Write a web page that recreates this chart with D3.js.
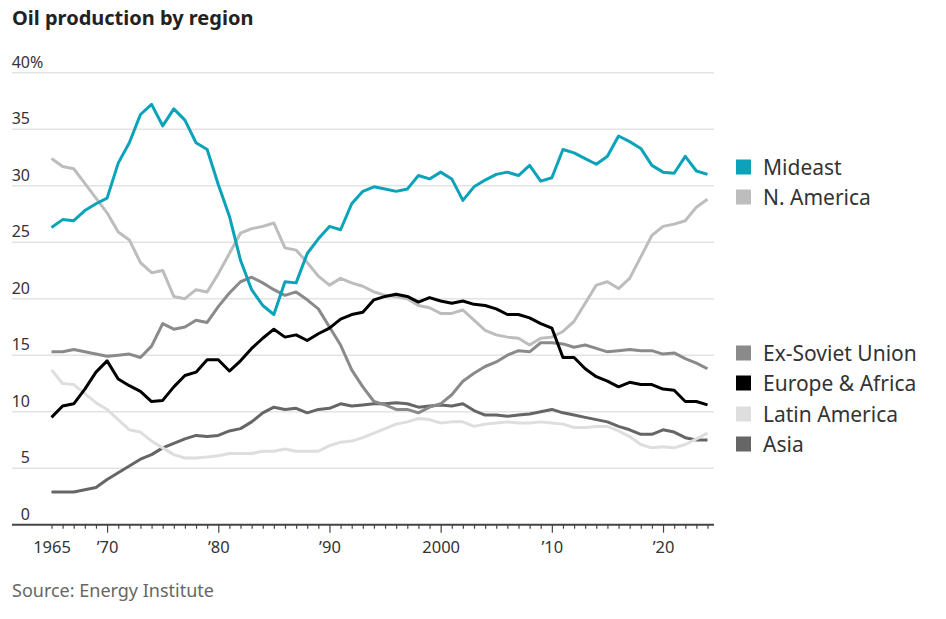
<!DOCTYPE html>
<html>
<head>
<meta charset="utf-8">
<script src="https://cdn.jsdelivr.net/npm/d3@7"></script>
<style>
  body { margin: 0; background: #fff; }
  svg text { font-family: "Noto Sans", sans-serif; }
</style>
</head>
<body>
<svg id="chart" width="946" height="619"></svg>
<script>
var years = d3.range(1965, 2025);

var mideast = [26.3,27.0,26.9,27.8,28.4,28.9,32.0,33.8,36.3,37.2,35.3,36.8,35.8,33.8,33.2,30.1,27.3,23.4,20.8,19.4,
  18.6,21.5,21.4,24.0,25.3,26.4,26.1,28.4,29.5,29.9,29.7,29.5,29.7,30.9,30.6,31.2,30.6,28.7,29.9,30.5,
  31.0,31.2,30.9,31.8,30.4,30.7,33.2,32.9,32.4,31.9,32.6,34.4,33.9,33.3,31.8,31.2,31.1,32.6,31.3,31.0];
var nAmerica = [32.4,31.7,31.5,30.2,28.9,27.6,25.9,25.2,23.2,22.3,22.5,20.2,20.0,20.8,20.6,22.2,24.0,25.8,26.2,26.4,
  26.7,24.5,24.3,23.2,22.0,21.2,21.8,21.4,21.1,20.6,20.3,20.2,20.0,19.4,19.2,18.7,18.7,19.0,18.1,17.2,
  16.8,16.6,16.5,15.9,16.5,16.6,17.1,18.0,19.6,21.2,21.5,20.9,21.8,23.7,25.6,26.4,26.6,26.9,28.1,28.8];
var exSoviet = [15.3,15.3,15.5,15.3,15.1,14.9,15.0,15.1,14.8,15.8,17.8,17.3,17.5,18.1,17.9,19.3,20.5,21.5,21.9,21.4,
  20.8,20.3,20.6,19.9,19.1,17.5,15.9,13.7,12.2,10.9,10.6,10.2,10.2,9.9,10.4,10.7,11.5,12.7,13.4,14.0,
  14.4,15.0,15.4,15.3,16.1,16.1,16.0,15.7,15.9,15.6,15.3,15.4,15.5,15.4,15.4,15.1,15.2,14.7,14.3,13.8];
var europeAfrica = [9.5,10.5,10.7,12.0,13.5,14.5,12.9,12.3,11.8,10.9,11.0,12.2,13.2,13.5,14.6,14.6,13.6,14.5,15.6,16.5,
  17.3,16.6,16.8,16.3,16.9,17.4,18.2,18.6,18.8,19.9,20.2,20.4,20.2,19.7,20.1,19.8,19.6,19.8,19.5,19.4,
  19.1,18.6,18.6,18.3,17.8,17.4,14.8,14.8,13.8,13.1,12.7,12.2,12.6,12.4,12.4,12.0,11.9,10.9,10.9,10.6];
var latinAmerica = [13.7,12.5,12.4,11.6,10.8,10.2,9.3,8.4,8.2,7.4,6.8,6.2,5.9,5.9,6.0,6.1,6.3,6.3,6.3,6.5,
  6.5,6.7,6.5,6.5,6.5,7.0,7.3,7.4,7.7,8.1,8.5,8.9,9.1,9.4,9.3,9.0,9.1,9.1,8.7,8.9,
  9.0,9.1,9.0,9.0,9.1,9.0,8.9,8.6,8.6,8.7,8.7,8.3,7.8,7.1,6.8,6.9,6.8,7.1,7.6,8.1];
var asia = [2.9,2.9,2.9,3.1,3.3,4.0,4.6,5.2,5.8,6.2,6.8,7.2,7.6,7.9,7.8,7.9,8.3,8.5,9.1,9.9,
  10.4,10.2,10.3,9.9,10.2,10.3,10.7,10.5,10.6,10.7,10.7,10.8,10.7,10.4,10.5,10.6,10.5,10.7,10.1,9.7,
  9.7,9.6,9.7,9.8,10.0,10.2,9.9,9.7,9.5,9.3,9.1,8.7,8.4,8.0,8.0,8.4,8.2,7.7,7.5,7.5];

var yTicks = [0, 5, 10, 15, 20, 25, 30, 35, 40];
var xTickLabels = {1965: "1965", 1970: "\u201970", 1980: "\u201980", 1990: "\u201990", 2000: "2000", 2010: "\u201910", 2020: "\u201920"};

var series = [
  {name: "Asia", values: asia, color: "#666666"},
  {name: "Latin America", values: latinAmerica, color: "#dedede"},
  {name: "Ex-Soviet Union", values: exSoviet, color: "#8a8a8a"},
  {name: "N. America", values: nAmerica, color: "#bdbdbd"},
  {name: "Europe & Africa", values: europeAfrica, color: "#000000"},
  {name: "Mideast", values: mideast, color: "#0ba3b9"}
];

var legendItems = [
  {name: "Mideast", color: "#0ba3b9", y: 167},
  {name: "N. America", color: "#bdbdbd", y: 197},
  {name: "Ex-Soviet Union", color: "#8a8a8a", y: 353},
  {name: "Europe & Africa", color: "#000000", y: 383},
  {name: "Latin America", color: "#dedede", y: 414},
  {name: "Asia", color: "#666666", y: 444}
];

var svg = d3.select("#chart");

var x = d3.scaleLinear().domain([1965, 2024]).range([51.5, 707.5]);
var y = d3.scaleLinear().domain([0, 40]).range([524.7, 72.7]);

// title
svg.append("text")
  .attr("x", 12).attr("y", 25)
  .attr("font-size", 20).attr("font-weight", "bold")
  .attr("fill", "#222")
  .text("Oil production by region");

// gridlines
svg.append("g").selectAll("line")
  .data(yTicks.filter(function(d) { return d > 0; }))
  .enter().append("line")
  .attr("x1", 12).attr("x2", 714)
  .attr("y1", function(d) { return y(d); })
  .attr("y2", function(d) { return y(d); })
  .attr("stroke", "#e3e3e3").attr("stroke-width", 1.5);

// y labels
svg.append("g").selectAll("text")
  .data(yTicks)
  .enter().append("text")
  .attr("x", 30)
  .attr("y", function(d) { return y(d) - 5; })
  .attr("text-anchor", "end")
  .attr("font-size", 16)
  .attr("fill", "#333")
  .text(function(d) { return d; });
svg.append("text")
  .attr("x", 30).attr("y", y(40) - 5)
  .attr("font-size", 16).attr("fill", "#333")
  .text("%");

// x axis
var xAxis = d3.axisBottom(x)
  .tickValues(years)
  .tickSize(4)
  .tickFormat(function(d) { return xTickLabels[d] || ""; });

var gx = svg.append("g")
  .attr("transform", "translate(0," + y(0) + ")")
  .call(xAxis);
gx.select(".domain").remove();
gx.insert("line", ":first-child")
  .attr("x1", 12).attr("x2", 714)
  .attr("stroke", "#444").attr("stroke-width", 2);
gx.selectAll(".tick line")
  .attr("stroke", "#444").attr("stroke-width", 1.2)
  .attr("y2", function(d) { return d % 10 === 0 ? 8 : 4; });
gx.selectAll(".tick text")
  .attr("y", 17)
  .attr("font-size", 16.5)
  .attr("font-family", "Noto Sans, sans-serif")
  .attr("fill", "#333");

// lines
var line = d3.line()
  .x(function(d, i) { return x(years[i]); })
  .y(function(d) { return y(d); });

svg.append("g").selectAll("path")
  .data(series)
  .enter().append("path")
  .attr("d", function(d) { return line(d.values); })
  .attr("fill", "none")
  .attr("stroke", function(d) { return d.color; })
  .attr("stroke-width", 3)
  .attr("stroke-linejoin", "round");

// legend
var legend = svg.append("g").selectAll("g")
  .data(legendItems)
  .enter().append("g")
  .attr("transform", function(d) { return "translate(736," + d.y + ")"; });
legend.append("rect")
  .attr("x", 0).attr("y", -7.5)
  .attr("width", 15).attr("height", 15)
  .attr("fill", function(d) { return d.color; });
legend.append("text")
  .attr("x", 27).attr("y", 7.5)
  .attr("font-size", 21)
  .attr("fill", "#333")
  .text(function(d) { return d.name; });

// source
svg.append("text")
  .attr("x", 12).attr("y", 597)
  .attr("font-size", 18)
  .attr("fill", "#666")
  .text("Source: Energy Institute");
</script>
</body>
</html>
